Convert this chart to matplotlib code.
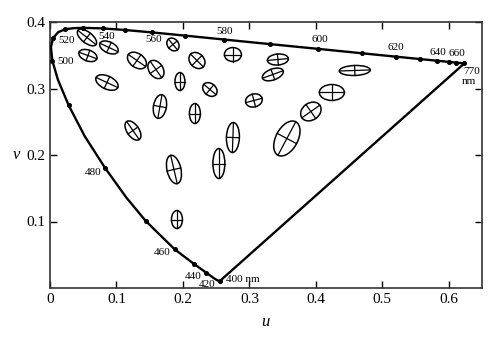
import numpy as np
import matplotlib
matplotlib.use("Agg")
import matplotlib.pyplot as plt
from matplotlib.patches import Ellipse

plt.rcParams['font.family'] = ['Liberation Serif', 'DejaVu Serif']

# Spectral locus (CIE 1960 u, v)
wl = [400, 420, 430, 440, 450, 460, 470, 475, 480, 485, 490, 495, 500, 505,
      510, 515, 520, 525, 530, 540, 550, 560, 570, 580, 590, 600, 610, 620,
      630, 640, 650, 660, 680, 700]
loc_u = [0.2557, 0.2522, 0.2461, 0.2347, 0.2161, 0.1877, 0.1441, 0.1147,
         0.0828, 0.0521, 0.0282, 0.0119, 0.0035, 0.0014, 0.0046, 0.0123,
         0.0231, 0.0360, 0.0501, 0.0792, 0.1127, 0.1531, 0.2026, 0.2623,
         0.3315, 0.4035, 0.4692, 0.5203, 0.5565, 0.5830, 0.6005, 0.6109,
         0.6199, 0.6234]
loc_v = [0.0106, 0.0113, 0.0151, 0.0233, 0.0366, 0.0581, 0.1007, 0.1362,
         0.1806, 0.2285, 0.2745, 0.3132, 0.3420, 0.3621, 0.3759, 0.3847,
         0.3891, 0.3908, 0.3912, 0.3904, 0.3880, 0.3844, 0.3796, 0.3736,
         0.3667, 0.3596, 0.3530, 0.3479, 0.3443, 0.3417, 0.3400, 0.3389,
         0.3380, 0.3377]
marked_wl = [400, 440, 450, 460, 470, 480, 490, 500, 510, 520, 530, 540, 550,
             560, 570, 580, 590, 600, 610, 620, 630, 640, 650, 660, 700]

# Wavelength labels
lab_text = ["520", "500", "540", "560", "580", "600", "620", "640", "660",
            "770", "nm", "480", "460", "440", "420", "400 nm"]
lab_u = [0.012, 0.011, 0.0857, 0.1556, 0.263, 0.406, 0.520, 0.5835, 0.612,
         0.6215, 0.6200, 0.0647, 0.1684, 0.215, 0.236, 0.265]
lab_v = [0.372, 0.341, 0.378, 0.3737, 0.3857, 0.3737, 0.3617, 0.354, 0.3526,
         0.3256, 0.3105, 0.1737, 0.0534, 0.0173, 0.0053, 0.0128]
lab_ha = ["left", "left", "center", "center", "center", "center", "center",
          "center", "center", "left", "left", "center", "center", "center",
          "center", "left"]

# MacAdam ellipses (centre u, v; full major / minor axis; angle in degrees)
ell_u = [0.0556, 0.0571, 0.0887, 0.0857, 0.1308, 0.1594, 0.1850, 0.2211,
         0.2752, 0.1955, 0.2406, 0.3068, 0.3429, 0.3353, 0.4586, 0.4241,
         0.3925, 0.3564, 0.1654, 0.2180, 0.1248, 0.2752, 0.2541, 0.1865,
         0.1910]
ell_v = [0.3767, 0.3496, 0.3617, 0.3090, 0.3421, 0.3286, 0.3662, 0.3421,
         0.3511, 0.3105, 0.2985, 0.2820, 0.3436, 0.3211, 0.3271, 0.2940,
         0.2654, 0.2248, 0.2729, 0.2624, 0.2368, 0.2263, 0.1872, 0.1782,
         0.1030]
ell_major = [0.0346, 0.0286, 0.0300, 0.0360, 0.0316, 0.0300, 0.0210, 0.0270,
             0.0256, 0.0270, 0.0240, 0.0256, 0.0316, 0.0330, 0.0466, 0.0376,
             0.0330, 0.0570, 0.0360, 0.0300, 0.0330, 0.0450, 0.0450, 0.0436,
             0.0270]
ell_minor = [0.0165, 0.0165, 0.0165, 0.0195, 0.0210, 0.0210, 0.0165, 0.0210,
             0.0210, 0.0150, 0.0180, 0.0195, 0.0165, 0.0165, 0.0150, 0.0240,
             0.0256, 0.0330, 0.0195, 0.0165, 0.0180, 0.0195, 0.0180, 0.0210,
             0.0165]
ell_angle = [-38, -20, -25, -25, -35, -55, -50, -45, 0, 90, -40, 15, 5, 20,
             2, 0, 35, 62, 80, 90, -55, 88, 90, 103, 90]

xticks = [0, 0.1, 0.2, 0.3, 0.4, 0.5, 0.6]
xtick_labels = ["0", "0.1", "0.2", "0.3", "0.4", "0.5", "0.6"]
yticks = [0.1, 0.2, 0.3, 0.4]
ytick_labels = ["0.1", "0.2", "0.3", "0.4"]

fig = plt.figure(figsize=(4.97, 3.37), dpi=100)
ax = fig.add_axes([50 / 497, 1 - 288 / 337, 432 / 497, 266 / 337])
ax.set_xlim(0, 0.65)
ax.set_ylim(0, 0.4)

# locus + purple line
ax.plot(loc_u, loc_v, color="black", lw=1.7, solid_joinstyle="round", zorder=3)
ax.plot([loc_u[-1], loc_u[0]], [loc_v[-1], loc_v[0]], color="black", lw=1.7, zorder=3)
mu = [u for w, u in zip(wl, loc_u) if w in marked_wl]
mv = [v for w, v in zip(wl, loc_v) if w in marked_wl]
ax.plot(mu, mv, "o", color="black", ms=2.6, zorder=4)

for t, u, v, ha in zip(lab_text, lab_u, lab_v, lab_ha):
    ax.text(u, v, t, fontsize=8, ha=ha, va="center", color="black")

for u, v, a, b, ang in zip(ell_u, ell_v, ell_major, ell_minor, ell_angle):
    ax.add_patch(Ellipse((u, v), a, b, angle=ang, fill=False,
                         edgecolor="black", lw=1.1, zorder=5))
    t = np.deg2rad(ang)
    ca, sa = np.cos(t), np.sin(t)
    ax.plot([u - a / 2 * ca, u + a / 2 * ca], [v - a / 2 * sa, v + a / 2 * sa],
            color="black", lw=0.9, zorder=5)
    ax.plot([u + b / 2 * sa, u - b / 2 * sa], [v - b / 2 * ca, v + b / 2 * ca],
            color="black", lw=0.9, zorder=5)

ax.set_xticks(xticks)
ax.set_xticklabels(xtick_labels)
ax.set_yticks(yticks)
ax.set_yticklabels(ytick_labels)
ax.tick_params(direction="in", length=5, width=1.0, top=True, right=True,
               labelsize=11, colors="black")
for s in ax.spines.values():
    s.set_linewidth(1.2)
    s.set_color("#333333")

fig.text(265 / 497, 1 - 322 / 337, "u", fontsize=12, style="italic",
         ha="center", va="center")
fig.text(16 / 497, 1 - 155 / 337, "v", fontsize=12, style="italic",
         ha="center", va="center")

fig.savefig("out.png", dpi=100)
